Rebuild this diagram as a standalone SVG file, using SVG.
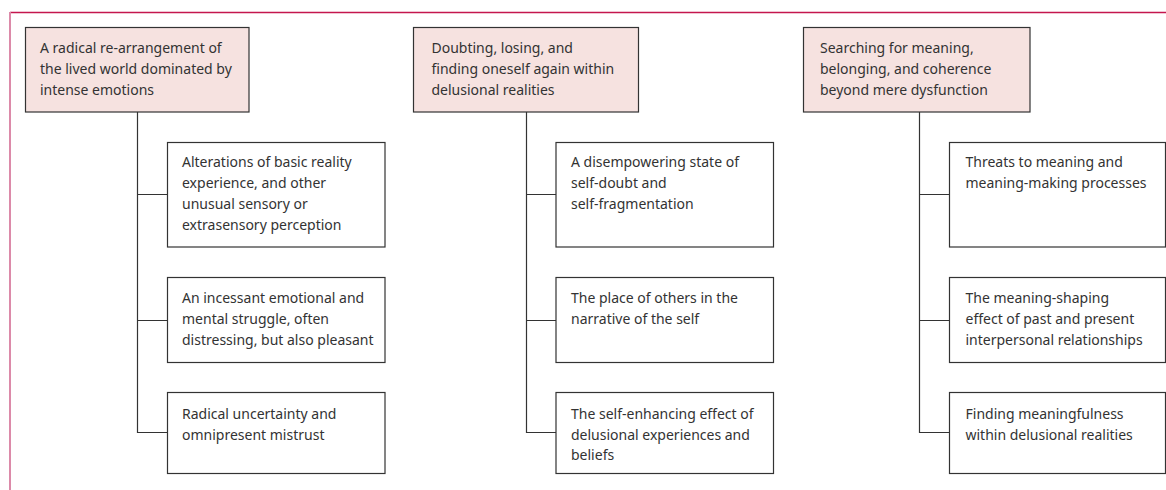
<svg xmlns="http://www.w3.org/2000/svg" width="1166" height="490" viewBox="0 0 1166 490">
<style>
.hd{fill:#f6e2e0;stroke:#333;stroke-width:1.2}
.bx{fill:#fff;stroke:#333;stroke-width:1.2}
.ln{fill:none;stroke:#333;stroke-width:1.2}
text{font-family:"Noto Sans","Open Sans",sans-serif;font-size:14px;fill:#333}
</style>
<rect width="1166" height="490" fill="#fff"/>
<line x1="10" y1="12.5" x2="1166" y2="12.5" stroke="#c4164e" stroke-width="1.5"/>
<line x1="10" y1="12" x2="10" y2="490" stroke="#dc8aa9" stroke-width="2"/>
<g id="connectors">
<path class="ln" d="M137.5 112V433M137.5 194.5H167.5M137.5 320.5H167.5M137.5 432.5H167.5"/>
<path class="ln" d="M526.5 112V433M526.5 194.5H556M526.5 320.5H556M526.5 432.5H556"/>
<path class="ln" d="M919.5 112V433M919.5 194.5H949.5M919.5 320.5H949.5M919.5 432.5H949.5"/>
</g>
<g id="h1"><rect class="hd" x="25.5" y="27.5" width="223.5" height="84.5"/>
<text x="40" y="53">A radical re-arrangement of</text><text x="40" y="74">the lived world dominated by</text><text x="40" y="95">intense emotions</text></g>
<g id="c1a"><rect class="bx" x="167.5" y="142.5" width="217.5" height="104.5"/>
<text x="182" y="167">Alterations of basic reality</text><text x="182" y="188">experience, and other</text><text x="182" y="209">unusual sensory or</text><text x="182" y="230">extrasensory perception</text></g>
<g id="c1b"><rect class="bx" x="167.5" y="277.5" width="217.5" height="85"/>
<text x="182" y="303">An incessant emotional and</text><text x="182" y="324">mental struggle, often</text><text x="182" y="345">distressing, but also pleasant</text></g>
<g id="c1c"><rect class="bx" x="167.5" y="392.5" width="217.5" height="81"/>
<text x="182" y="419">Radical uncertainty and</text><text x="182" y="439.5">omnipresent mistrust</text></g>
<g id="h2"><rect class="hd" x="413.5" y="27.5" width="225" height="84.5"/>
<text x="431.5" y="53">Doubting, losing, and</text><text x="431.5" y="74">finding oneself again within</text><text x="431.5" y="95">delusional realities</text></g>
<g id="c2a"><rect class="bx" x="556" y="142.5" width="217.5" height="104.5"/>
<text x="571" y="167">A disempowering state of</text><text x="571" y="188">self-doubt and</text><text x="571" y="209">self-fragmentation</text></g>
<g id="c2b"><rect class="bx" x="556" y="277.5" width="217.5" height="85"/>
<text x="571" y="303">The place of others in the</text><text x="571" y="324">narrative of the self</text></g>
<g id="c2c"><rect class="bx" x="556" y="392.5" width="217.5" height="81"/>
<text x="571" y="419">The self-enhancing effect of</text><text x="571" y="439.5">delusional experiences and</text><text x="571" y="460">beliefs</text></g>
<g id="h3"><rect class="hd" x="803.5" y="27.5" width="226.5" height="84.5"/>
<text x="820" y="53">Searching for meaning,</text><text x="820" y="74">belonging, and coherence</text><text x="820" y="95">beyond mere dysfunction</text></g>
<g id="c3a"><rect class="bx" x="949.5" y="142.5" width="216" height="104.5"/>
<text x="965.5" y="167">Threats to meaning and</text><text x="965.5" y="188">meaning-making processes</text></g>
<g id="c3b"><rect class="bx" x="949.5" y="277.5" width="216" height="85"/>
<text x="965.5" y="303">The meaning-shaping</text><text x="965.5" y="324">effect of past and present</text><text x="965.5" y="345">interpersonal relationships</text></g>
<g id="c3c"><rect class="bx" x="949.5" y="392.5" width="216" height="81"/>
<text x="965.5" y="419">Finding meaningfulness</text><text x="965.5" y="439.5">within delusional realities</text></g>
</svg>
